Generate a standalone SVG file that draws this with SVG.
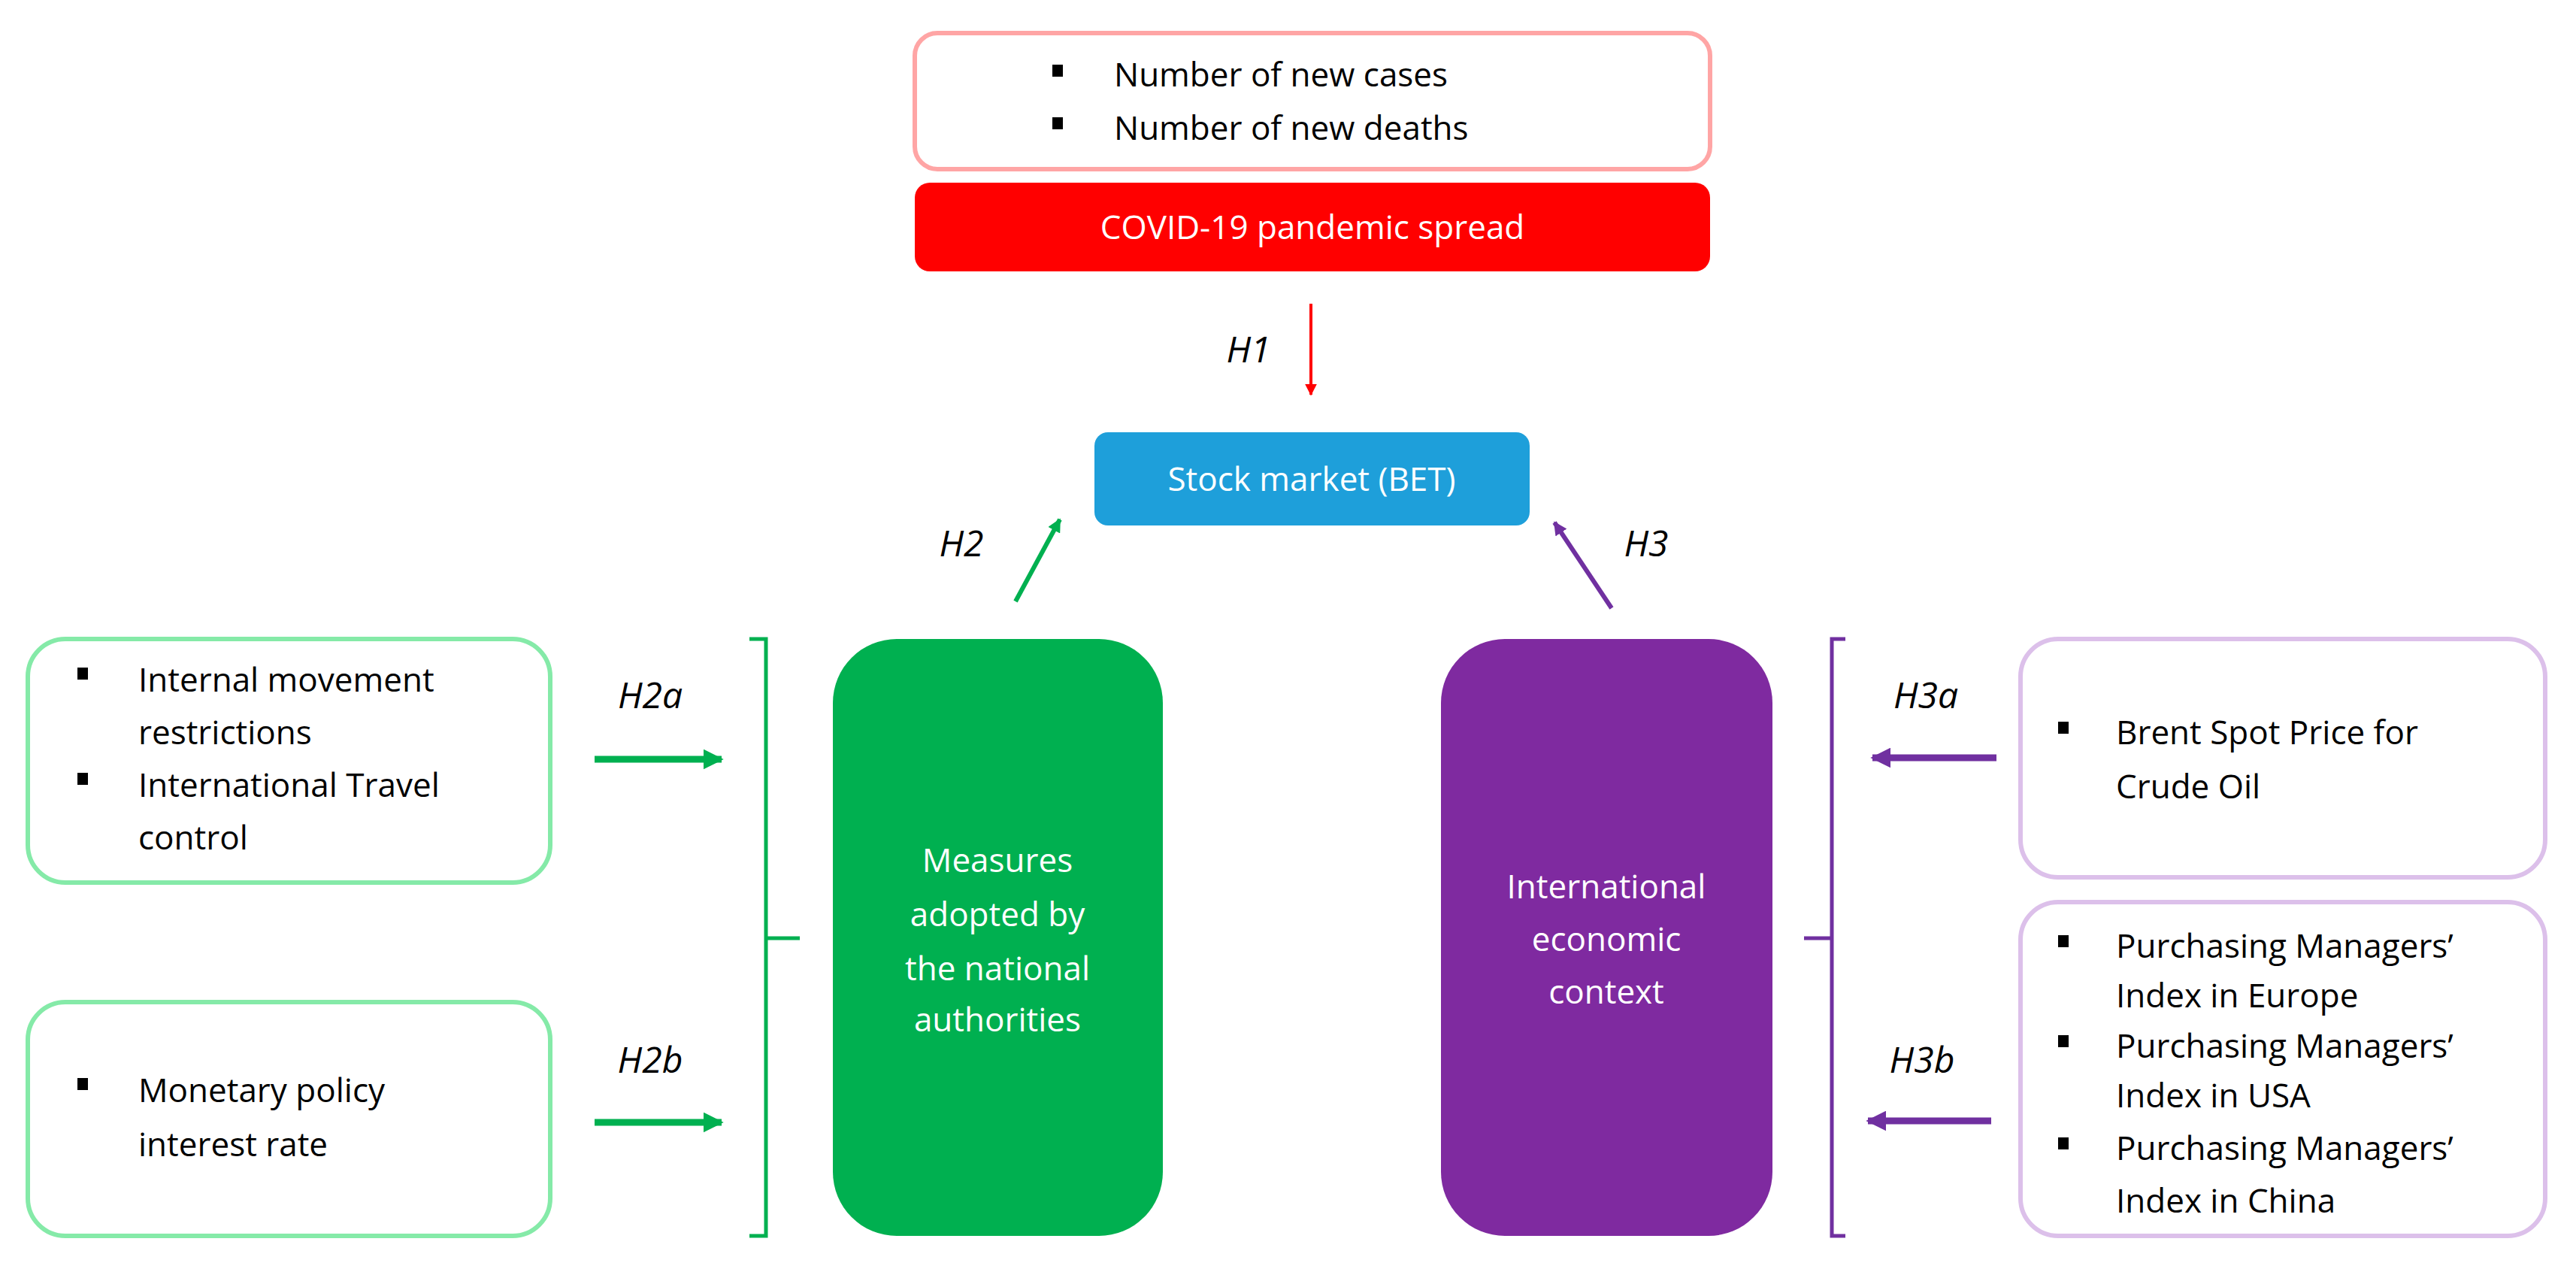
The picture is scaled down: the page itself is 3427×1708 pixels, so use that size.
<svg xmlns="http://www.w3.org/2000/svg" width="3427" height="1708" viewBox="0 0 3427 1708">
<style>
text{font-family:"Open Sans","Liberation Sans",sans-serif;font-size:44px;fill:#000}
.w{fill:#fff;text-anchor:middle}
.h{font-style:italic;font-size:48px;text-anchor:middle}
.gb{fill:#fff;stroke:#85eaa8;stroke-width:6}
.pb{fill:#fff;stroke:#dcc0ea;stroke-width:6}
</style>
<defs>
<marker id="ar" viewBox="0 0 10 10" refX="9" refY="5" markerWidth="4" markerHeight="4" orient="auto" markerUnits="strokeWidth"><path d="M0,0L10,5L0,10z" fill="#ff0000"/></marker>
<marker id="ag" viewBox="0 0 10 10" refX="9" refY="5" markerWidth="3" markerHeight="3" orient="auto" markerUnits="strokeWidth"><path d="M0,0L10,5L0,10z" fill="#00b050"/></marker>
<marker id="ap" viewBox="0 0 10 10" refX="9" refY="5" markerWidth="3" markerHeight="3" orient="auto" markerUnits="strokeWidth"><path d="M0,0L10,5L0,10z" fill="#7030a0"/></marker>
</defs>
<g id="cases"><rect x="1217" y="44" width="1058" height="181" rx="30" fill="#fff" stroke="#ffa5a5" stroke-width="6"/>
<rect x="1400" y="86" width="14" height="16"/><rect x="1400" y="156" width="14" height="16"/>
<text x="1482" y="115">Number of new cases</text><text x="1482" y="186">Number of new deaths</text></g>
<g id="covid"><rect x="1217" y="243" width="1058" height="118" rx="20" fill="#ff0000"/><text class="w" x="1746" y="318">COVID-19 pandemic spread</text></g>
<g id="stock"><rect x="1456" y="575" width="579" height="124" rx="18" fill="#1e9fda"/><text class="w" x="1745" y="653">Stock market (BET)</text></g>
<g id="l1"><rect class="gb" x="37" y="850" width="695" height="324" rx="50"/>
<rect x="103" y="888" width="14" height="16"/><rect x="103" y="1028" width="14" height="16"/>
<text x="184" y="920">Internal movement</text><text x="184" y="990">restrictions</text><text x="184" y="1060">International Travel</text><text x="184" y="1130">control</text></g>
<g id="l2"><rect class="gb" x="37" y="1333" width="695" height="311" rx="50"/>
<rect x="103" y="1434" width="14" height="16"/><text x="184" y="1466">Monetary policy</text><text x="184" y="1538">interest rate</text></g>
<g id="measures"><rect x="1108" y="850" width="439" height="794" rx="85" fill="#00b050"/>
<text class="w" x="1327" y="1160">Measures</text><text class="w" x="1327" y="1232">adopted by</text><text class="w" x="1327" y="1304">the national</text><text class="w" x="1327" y="1372">authorities</text></g>
<g id="intl"><rect x="1917" y="850" width="441" height="794" rx="85" fill="#7f2aa0"/>
<text class="w" x="2137" y="1195">International</text><text class="w" x="2137" y="1265">economic</text><text class="w" x="2137" y="1335">context</text></g>
<g id="r1"><rect class="pb" x="2688" y="850" width="698" height="317" rx="50"/>
<rect x="2738" y="960" width="14" height="16"/><text x="2815" y="990">Brent Spot Price for</text><text x="2815" y="1062">Crude Oil</text></g>
<g id="r2"><rect class="pb" x="2688" y="1200" width="698" height="444" rx="50"/>
<rect x="2738" y="1244" width="14" height="16"/><rect x="2738" y="1377" width="14" height="16"/><rect x="2738" y="1513" width="14" height="16"/>
<text x="2815" y="1274">Purchasing Managers’</text><text x="2815" y="1340">Index in Europe</text><text x="2815" y="1407">Purchasing Managers’</text><text x="2815" y="1473">Index in USA</text><text x="2815" y="1543">Purchasing Managers’</text><text x="2815" y="1613">Index in China</text></g>
<g id="connectors" fill="none">
<line x1="1744" y1="404" x2="1744" y2="525" stroke="#ff0000" stroke-width="4" marker-end="url(#ar)"/>
<line x1="1351" y1="800" x2="1410" y2="691" stroke="#00b050" stroke-width="6" marker-end="url(#ag)"/>
<line x1="2144" y1="809" x2="2068" y2="695" stroke="#7030a0" stroke-width="6" marker-end="url(#ap)"/>
<line x1="791" y1="1010" x2="960" y2="1010" stroke="#00b050" stroke-width="9" marker-end="url(#ag)"/>
<line x1="791" y1="1493" x2="960" y2="1493" stroke="#00b050" stroke-width="9" marker-end="url(#ag)"/>
<line x1="2656" y1="1008" x2="2491" y2="1008" stroke="#7030a0" stroke-width="9" marker-end="url(#ap)"/>
<line x1="2649" y1="1491" x2="2485" y2="1491" stroke="#7030a0" stroke-width="9" marker-end="url(#ap)"/>
<path d="M997,850H1019V1644H997M1019,1248H1064" stroke="#00b050" stroke-width="5"/>
<path d="M2455,850H2437V1644H2455M2437,1248H2400" stroke="#7030a0" stroke-width="5"/>
</g>
<g id="labels">
<text class="h" x="1661" y="482">H1</text><text class="h" x="1279" y="740">H2</text><text class="h" x="2190" y="740">H3</text>
<text class="h" x="865" y="942">H2a</text><text class="h" x="865" y="1427">H2b</text><text class="h" x="2562" y="942">H3a</text><text class="h" x="2557" y="1427">H3b</text>
</g>
</svg>
